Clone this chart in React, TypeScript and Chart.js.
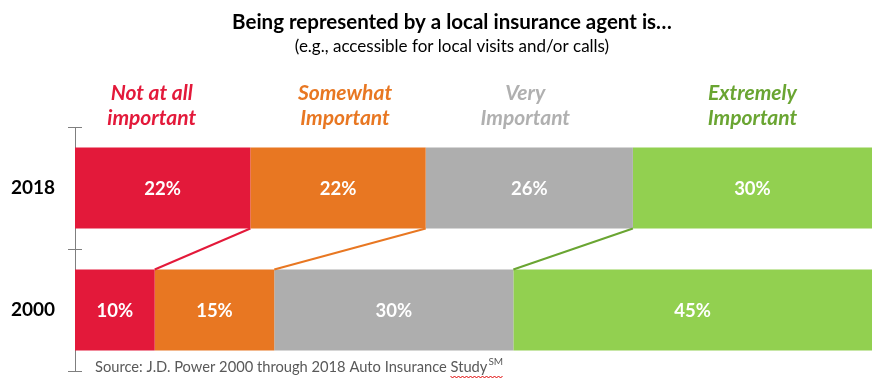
import React, { useEffect, useRef } from "react";
import { Chart, registerables } from "chart.js";

Chart.register(...registerables);

const years = ["2018", "2000"];
const seriesNames = ["Not at all important", "Somewhat Important", "Very Important", "Extremely Important"];
const headerLines = [["Not at all", "important"], ["Somewhat", "Important"], ["Very", "Important"], ["Extremely", "Important"]];
const notAtAll = [22, 10];
const somewhat = [22, 15];
const very = [26, 30];
const extremely = [30, 45];
const barColors = ["#E3193A", "#E87722", "#AEAEAE", "#92D050"];
const headerColors = ["#E3193A", "#E87722", "#B0B0B0", "#6AA532"];
const connectorColors = ["#E3193A", "#E87722", "#6AA532"];
const titleText = "Being represented by a local insurance agent is…";
const subtitleText = "(e.g., accessible for local visits and/or calls)";
const sourceText = "Source: J.D. Power 2000 through 2018 Auto Insurance Study";

const FONT = "Lato";
const headerShift = [-11, 7, -4, 0];

const overlay = {
  id: "overlay",
  afterDraw(chart: any) {
    const ctx = chart.ctx;
    const ys = chart.scales.y;
    ctx.save();
    // titles
    ctx.textAlign = "center";
    ctx.textBaseline = "middle";
    ctx.fillStyle = "#000";
    ctx.font = `bold 20.5px ${FONT}`;
    ctx.fillText(titleText, 452, 22);
    ctx.font = `17px ${FONT}`;
    ctx.fillText(subtitleText, 452, 47);

    const metas = chart.data.datasets.map((_: any, i: number) => chart.getDatasetMeta(i));
    // headers at 2018 segment centres
    ctx.font = `italic bold 21px ${FONT}`;
    metas.forEach((m: any, i: number) => {
      const el = m.data[0];
      const cx = (el.x + el.base) / 2 + headerShift[i];
      ctx.fillStyle = headerColors[i];
      ctx.fillText(headerLines[i][0], cx, 93);
      ctx.fillText(headerLines[i][1], cx, 118);
    });

    // value labels
    ctx.fillStyle = "#fff";
    ctx.font = `bold 18.5px ${FONT}`;
    metas.forEach((m: any, i: number) => {
      m.data.forEach((el: any, j: number) => {
        const v = chart.data.datasets[i].data[j];
        ctx.fillText(v + "%", (el.x + el.base) / 2, el.y + 1);
      });
    });

    // connectors between boundaries
    ctx.lineWidth = 2;
    for (let i = 0; i < 3; i++) {
      const a = metas[i].data[0];
      const b = metas[i].data[1];
      ctx.strokeStyle = connectorColors[i];
      ctx.beginPath();
      ctx.moveTo(a.x, a.y + a.height / 2);
      ctx.lineTo(b.x, b.y - b.height / 2);
      ctx.stroke();
    }

    // y-axis tick marks at category boundaries
    const ax = ys.right;
    const p0 = ys.getPixelForValue(0);
    const p1 = ys.getPixelForValue(1);
    const ticks = [ys.top, (p0 + p1) / 2, ys.bottom];
    ctx.strokeStyle = "#7F7F7F";
    ctx.lineWidth = 1;
    ticks.forEach((t: number) => {
      ctx.beginPath();
      ctx.moveTo(ax - 7, Math.round(t) + 0.5);
      ctx.lineTo(ax + 7, Math.round(t) + 0.5);
      ctx.stroke();
    });

    // source
    ctx.textAlign = "left";
    ctx.textBaseline = "alphabetic";
    ctx.fillStyle = "#595959";
    ctx.font = `14.7px ${FONT}`;
    ctx.fillText(sourceText, 95, 372);
    const w = ctx.measureText(sourceText).width;
    const sw = ctx.measureText("Study").width;
    ctx.font = `10px ${FONT}`;
    ctx.fillText("SM", 95 + w + 1, 365);
    const smw = ctx.measureText("SM").width;
    // spell-check squiggle
    ctx.strokeStyle = "#E00000";
    ctx.lineWidth = 1;
    ctx.beginPath();
    const x0 = 95 + w - sw;
    const x1 = 95 + w + 1 + smw;
    for (let x = x0, k = 0; x <= x1; x += 2, k++) {
      const y = k % 2 === 0 ? 376 : 378;
      if (k === 0) ctx.moveTo(x, y); else ctx.lineTo(x, y);
    }
    ctx.stroke();
    ctx.restore();
  },
};

export default function App() {
  const ref = useRef<HTMLCanvasElement>(null);
  useEffect(() => {
    const dataArr = [notAtAll, somewhat, very, extremely];
    const chart = new Chart(ref.current as HTMLCanvasElement, {
      type: "bar",
      data: {
        labels: years,
        datasets: dataArr.map((d, i) => ({
          label: seriesNames[i],
          data: d,
          backgroundColor: barColors[i],
          borderWidth: 0,
          barPercentage: 0.664,
          categoryPercentage: 1,
        })),
      },
      options: {
        indexAxis: "y",
        responsive: false,
        animation: false,
        layout: { padding: { top: 127, right: 14, bottom: 18, left: 0 } },
        plugins: { legend: { display: false }, tooltip: { enabled: false }, title: { display: false } },
        scales: {
          x: { stacked: true, min: 0, max: 100, display: false },
          y: {
            stacked: true,
            grid: { display: true, drawOnChartArea: false, drawTicks: true, tickLength: 20, color: "rgba(0,0,0,0)", tickColor: "rgba(0,0,0,0)" },
            border: { display: true, color: "#7F7F7F", width: 1 },
            ticks: { color: "#000", font: { family: FONT, weight: "bold", size: 19 }, padding: 0 },
            afterFit: (s: any) => { s.width = 75; },
          },
        },
      },
      plugins: [overlay],
    });
    return () => chart.destroy();
  }, []);
  return (
    <div style={{ position: "fixed", left: 0, top: 0, width: 886, height: 389, background: "#fff" }}>
      <canvas ref={ref} width={886} height={389} />
    </div>
  );
}
